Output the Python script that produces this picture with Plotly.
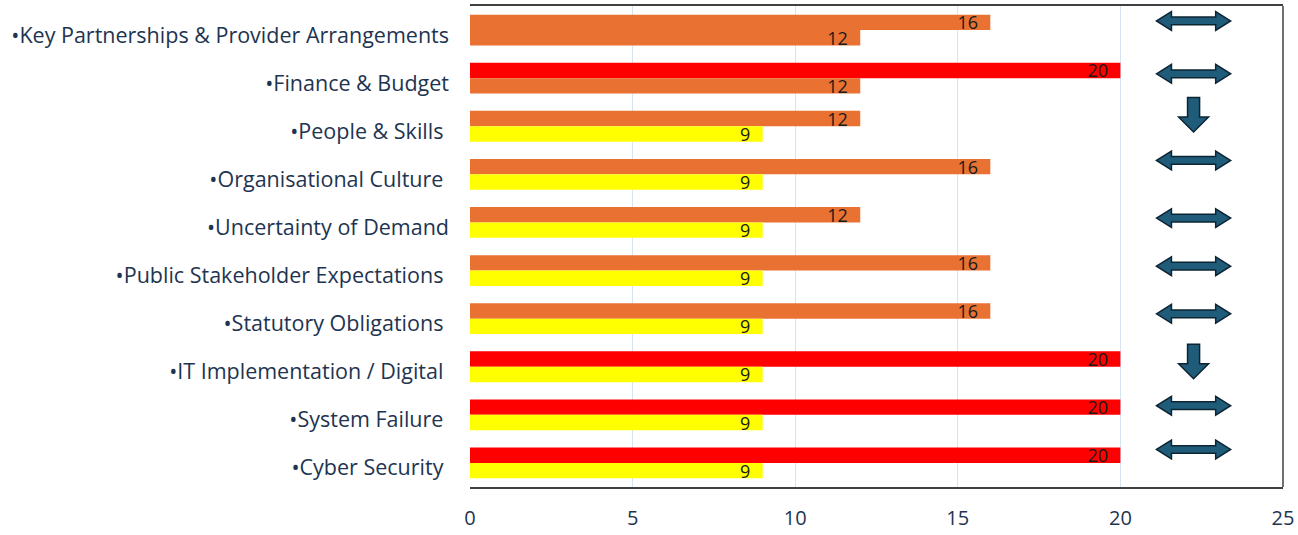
import plotly.graph_objects as go

# ---------------- data ----------------
categories = [
    "•Key Partnerships & Provider Arrangements",
    "•Finance & Budget",
    "•People & Skills ",
    "•Organisational Culture ",
    "•Uncertainty of Demand",
    "•Public Stakeholder Expectations ",
    "•Statutory Obligations ",
    "•IT Implementation / Digital ",
    "•System Failure ",
    "•Cyber Security ",
]
current_score = [16, 20, 12, 16, 12, 16, 16, 20, 20, 20]
target_score = [12, 12, 9, 9, 9, 9, 9, 9, 9, 9]
trend = ["steady", "steady", "down", "steady", "steady",
         "steady", "steady", "down", "steady", "steady"]
x_ticks = [0, 5, 10, 15, 20, 25]

# ---------------- styles ----------------
def score_colour(v):
    if v >= 20:
        return "#FF0000"
    if v >= 12:
        return "#E97132"
    return "#FFFF00"

TEXT_COL = "#1E3450"
FONT = "Open Sans"
NBSP = "\u00a0"
idx = list(range(len(categories)))

fig = go.Figure()
for vals in (current_score, target_score):
    fig.add_trace(go.Bar(
        y=idx, x=vals, orientation="h",
        marker=dict(color=[score_colour(v) for v in vals], line=dict(width=0)),
        text=[str(v) + NBSP * 2 for v in vals], textposition="inside",
        insidetextanchor="end", constraintext="none", textangle=0,
        textfont=dict(color="#1a1a1a", size=18, family=FONT),
        showlegend=False, hoverinfo="skip",
    ))

# trend arrows (decorative icons)
ARROW_X = 22.25
ARROW_NUDGE = [-0.19, -0.09, -0.24, -0.29, -0.09, -0.09, -0.10, -0.11, -0.19, -0.28]

def double_arrow(xc, yc, w=2.28, hl=0.46, hh=0.195, sh=0.08):
    l, r = xc - w / 2, xc + w / 2
    pts = [(l, yc), (l + hl, yc - hh), (l + hl, yc - sh), (r - hl, yc - sh),
           (r - hl, yc - hh), (r, yc), (r - hl, yc + hh), (r - hl, yc + sh),
           (l + hl, yc + sh), (l + hl, yc + hh)]
    return "M " + " L ".join(f"{x:.3f},{y:.3f}" for x, y in pts) + " Z"

def down_arrow(xc, yc, H=0.72, sw=0.185, hw=0.46, hh=0.31):
    yt, yb = yc - H / 2, yc + H / 2
    pts = [(xc - sw, yt), (xc + sw, yt), (xc + sw, yb - hh), (xc + hw, yb - hh),
           (xc, yb), (xc - hw, yb - hh), (xc - sw, yb - hh)]
    return "M " + " L ".join(f"{x:.3f},{y:.3f}" for x, y in pts) + " Z"

for i, t in enumerate(trend):
    yc = i + ARROW_NUDGE[i]
    path = down_arrow(ARROW_X, yc) if t == "down" else double_arrow(ARROW_X, yc)
    fig.add_shape(type="path", path=path, xref="x", yref="y",
                  fillcolor="#1F5C7A", line=dict(color="#0D2433", width=1.5))

# right edge of plot frame
fig.add_shape(type="line", xref="paper", yref="paper", x0=1, x1=1, y0=0, y1=1,
              line=dict(color="#404040", width=1.5))

fig.update_layout(
    width=1298, height=535,
    margin=dict(l=470, r=15, t=4, b=39),
    paper_bgcolor="white", plot_bgcolor="white",
    barmode="group", bargap=0.36, bargroupgap=0,
    font=dict(family=FONT, color=TEXT_COL),
    xaxis=dict(
        range=[0, 25], tickvals=x_ticks, ticktext=[str(v) for v in x_ticks],
        showgrid=True, gridcolor="#D5E3F3", gridwidth=1,
        zeroline=False, showline=True, mirror=True,
        linecolor="#404040", linewidth=2,
        tickfont=dict(size=20, color=TEXT_COL), ticks="", ticklabelstandoff=12,
    ),
    yaxis=dict(
        range=[len(categories) - 0.5, -0.5], tickvals=idx, ticktext=categories,
        showgrid=False, zeroline=False, showline=False, ticks="",
        tickfont=dict(size=21.5, color=TEXT_COL), ticklabelstandoff=20,
        ticklabelshift=-5,
    ),
)

fig.write_html("out.html", config={"displayModeBar": False},
               post_script="document.body.style.margin='0';document.body.style.overflow='hidden';")
